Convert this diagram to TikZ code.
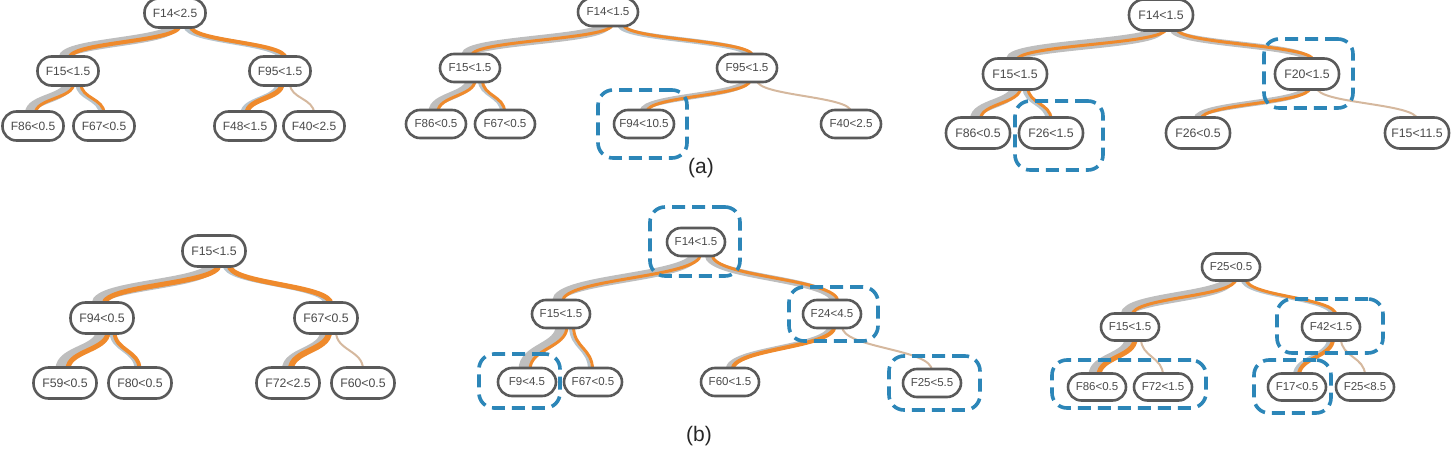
\documentclass[tikz,border=0pt]{standalone}
\usepackage{fontspec}
\setmainfont{Liberation Sans}
\usetikzlibrary{calc,backgrounds}
\definecolor{ndgray}{HTML}{5A5A5A}
\definecolor{txtgray}{HTML}{4A4A4A}
\definecolor{flowgray}{HTML}{BEBEBE}
\definecolor{flowblue}{HTML}{B8C4CC}
\definecolor{floworange}{HTML}{EF8A2C}
\definecolor{flowtan}{HTML}{D5B89E}
\definecolor{hlblue}{HTML}{2C86B8}
\def\ndW{61pt}\def\ndH{29pt}\def\ndR{14pt}\def\ndF{12}
\tikzset{
 nd/.style={draw=ndgray, line width=2.6pt, fill=white, rounded corners=\ndR, minimum width=\ndW, minimum height=\ndH, inner sep=0pt, text=txtgray, font=\fontsize{\ndF}{\ndF}\selectfont},
 hl/.style={draw=hlblue, line width=3.6pt, dash pattern=on 13pt off 7pt, rounded corners=15pt, inner sep=0pt},
 gflow/.style={line cap=butt},
 oflow/.style={draw=floworange, line cap=butt},
 tflow/.style={draw=flowtan, line width=2pt, line cap=butt},
 caplabel/.style={font=\fontsize{21}{25}\selectfont, text=black!85, inner sep=0pt}
}
% one strand from parent bottom to child top
\newcommand\onestrand[5]{%
  \path ($(#2.south)+({#4},-3)$) coordinate (s) ($(#3.north)+({#5},3)$) coordinate (e);
  \path ($(s)!0.5!(e)$) coordinate (m);
  \draw[#1] (s) .. controls (s|-m) and (e|-m) .. (e);
}
% gray band + orange line; args: [graycolor] parent child graywidth orangewidth parentx0 childx0
\newcommand\edgeflow[7][flowgray]{%
  \onestrand{gflow, draw=#1, line width=#4pt}{#2}{#3}{#6-#5/2}{#7-#5/2}
  \onestrand{oflow, line width=#5pt}{#2}{#3}{#6+#4/2}{#7+#4/2}
}
\newcommand\edgetan[4]{\onestrand{tflow}{#1}{#2}{#3}{#4}}

\begin{document}
\begin{tikzpicture}[x=1pt,y=-1pt]
\useasboundingbox (0,0) rectangle (1454,454);
\clip (0,0) rectangle (1454,454);

% ---------------- Tree 1 ----------------
\begin{scope}
\def\ndW{61pt}\def\ndH{29pt}\def\ndR{14pt}\def\ndF{12}
\node[nd] (aR)   at (175,13)  {F14<2.5};
\node[nd] (aL)   at (68,71)   {F15<1.5};
\node[nd] (aRR)  at (280,71)  {F95<1.5};
\node[nd] (aLL)  at (33,126)  {F86<0.5};
\node[nd] (aLR)  at (104,126) {F67<0.5};
\node[nd] (aRL)  at (245,126) {F48<1.5};
\node[nd] (aRRR) at (314,126) {F40<2.5};
\begin{scope}[on background layer]
\edgeflow{aR}{aL}{9}{4}{0}{-3}
\edgeflow[flowblue]{aR}{aRR}{5}{4}{13}{3}
\edgeflow{aL}{aLL}{9}{3}{1}{-2}
\edgeflow[flowblue]{aL}{aLR}{4}{3}{11}{-2}
\edgeflow[flowblue]{aRR}{aRL}{4}{5}{0}{0}
\edgetan{aRR}{aRRR}{10}{0}
\end{scope}
\end{scope}

% ---------------- Tree 2 ----------------
\begin{scope}
\def\ndW{60pt}\def\ndH{28pt}\def\ndR{14pt}\def\ndF{11.6}
\node[nd] (bR)   at (608,12)  {F14<1.5};
\node[nd] (bL)   at (470,68)  {F15<1.5};
\node[nd] (bRR)  at (747,68)  {F95<1.5};
\node[nd] (bLL)  at (436,124) {F86<0.5};
\node[nd] (bLR)  at (505,124) {F67<0.5};
\node[nd] (bRL)  at (644,124) {F94<10.5};
\node[nd] (bRRR) at (851,124) {F40<2.5};
\begin{scope}[on background layer]
\edgeflow{bR}{bL}{9}{3}{0}{-3}
\edgeflow[flowblue]{bR}{bRR}{5}{3}{13}{3}
\edgeflow{bL}{bLL}{8}{3}{1}{-2}
\edgeflow[flowblue]{bL}{bLR}{3}{3}{11}{-2}
\edgeflow{bRR}{bRL}{6}{3}{0}{0}
\edgetan{bRR}{bRRR}{10}{0}
\end{scope}
\node[hl, minimum width=89pt, minimum height=68pt] (hb1) at (642.5,124) {};
\node[caplabel] (capA) at (701,168) {(a)};
\end{scope}

% ---------------- Tree 3 ----------------
\begin{scope}
\def\ndW{64pt}\def\ndH{31pt}\def\ndR{15pt}\def\ndF{12.3}
\node[nd] (cR)   at (1161,15)  {F14<1.5};
\node[nd] (cL)   at (1015,74)  {F15<1.5};
\node[nd] (cRR)  at (1307,74)  {F20<1.5};
\node[nd] (cLL)  at (978,133)  {F86<0.5};
\node[nd] (cLR)  at (1051,133) {F26<1.5};
\node[nd] (cRL)  at (1198,133) {F26<0.5};
\node[nd] (cRRR) at (1417,133) {F15<11.5};
\begin{scope}[on background layer]
\edgeflow{cR}{cL}{10}{3}{0}{-3}
\edgeflow{cR}{cRR}{6}{3}{13}{3}
\edgeflow{cL}{cLL}{9}{3}{1}{-2}
\edgeflow[flowblue]{cL}{cLR}{4}{3}{11}{-2}
\edgeflow{cRR}{cRL}{6}{3}{0}{0}
\edgetan{cRR}{cRRR}{10}{0}
\end{scope}
\node[hl, minimum width=89pt, minimum height=69pt] (hc1) at (1308.5,73.5) {};
\node[hl, minimum width=88pt, minimum height=69pt] (hc2) at (1059,135.5) {};
\end{scope}

% ---------------- Tree 4 ----------------
\begin{scope}
\def\ndW{63pt}\def\ndH{31pt}\def\ndR{15pt}\def\ndF{12.3}
\node[nd] (dR)   at (214,251) {F15<1.5};
\node[nd] (dL)   at (102,318) {F94<0.5};
\node[nd] (dRR)  at (326,318) {F67<0.5};
\node[nd] (dLL)  at (65,383)  {F59<0.5};
\node[nd] (dLR)  at (140,383) {F80<0.5};
\node[nd] (dRL)  at (288,383) {F72<2.5};
\node[nd] (dRRR) at (363,383) {F60<0.5};
\begin{scope}[on background layer]
\edgeflow{dR}{dL}{10}{5}{0}{-3}
\edgeflow[flowblue]{dR}{dRR}{4}{5}{13}{3}
\edgeflow{dL}{dLL}{10}{5}{1}{-2}
\edgeflow[flowblue]{dL}{dLR}{3}{4}{11}{-2}
\edgeflow{dRR}{dRL}{6}{6}{0}{0}
\edgetan{dRR}{dRRR}{10}{0}
\end{scope}
\end{scope}

% ---------------- Tree 5 ----------------
\begin{scope}
\def\ndW{58pt}\def\ndH{28pt}\def\ndR{14pt}\def\ndF{11.5}
\node[nd] (eR)   at (696,242) {F14<1.5};
\node[nd] (eL)   at (561,314) {F15<1.5};
\node[nd] (eRR)  at (832,314) {F24<4.5};
\node[nd] (eLL)  at (527,382) {F9<4.5};
\node[nd] (eLR)  at (593,382) {F67<0.5};
\node[nd] (eRL)  at (730,382) {F60<1.5};
\node[nd] (eRRR) at (932,383) {F25<5.5};
\begin{scope}[on background layer]
\edgeflow{eR}{eL}{9}{3}{0}{-3}
\edgeflow{eR}{eRR}{6}{3}{13}{3}
\edgeflow{eL}{eLL}{10}{3}{1}{-2}
\edgeflow[flowblue]{eL}{eLR}{3}{3}{11}{-2}
\edgeflow{eRR}{eRL}{5}{4}{0}{0}
\edgetan{eRR}{eRRR}{10}{0}
\end{scope}
\node[hl, minimum width=90pt, minimum height=69pt] (he1) at (695,241.5) {};
\node[hl, minimum width=89pt, minimum height=54pt] (he2) at (833.5,314) {};
\node[hl, minimum width=81pt, minimum height=54pt] (he3) at (519.5,381) {};
\node[hl, minimum width=91pt, minimum height=54pt] (he4) at (934.5,383) {};
\node[caplabel] (capB) at (699,436) {(b)};
\end{scope}

% ---------------- Tree 6 ----------------
\begin{scope}
\def\ndW{58pt}\def\ndH{27pt}\def\ndR{13.5pt}\def\ndF{11.5}
\node[nd] (fR)   at (1231,267) {F25<0.5};
\node[nd] (fL)   at (1130,327) {F15<1.5};
\node[nd] (fRR)  at (1331,327) {F42<1.5};
\node[nd] (fLL)  at (1097,387) {F86<0.5};
\node[nd] (fLR)  at (1163,387) {F72<1.5};
\node[nd] (fRL)  at (1297,387) {F17<0.5};
\node[nd] (fRRR) at (1365,387) {F25<8.5};
\begin{scope}[on background layer]
\edgeflow{fR}{fL}{10}{3}{0}{-3}
\edgeflow[flowblue]{fR}{fRR}{4}{3}{13}{3}
\edgeflow{fL}{fLL}{8}{5}{1}{-2}
\edgetan{fL}{fLR}{11}{0}
\edgeflow[flowblue]{fRR}{fRL}{4}{4}{0}{0}
\edgetan{fRR}{fRRR}{10}{0}
\end{scope}
\node[hl, minimum width=106pt, minimum height=54pt] (hf1) at (1330,326) {};
\node[hl, minimum width=154pt, minimum height=48pt] (hf2) at (1129,384) {};
\node[hl, minimum width=77pt, minimum height=53pt] (hf3) at (1292.5,386.5) {};
\end{scope}
\end{tikzpicture}
\end{document}
